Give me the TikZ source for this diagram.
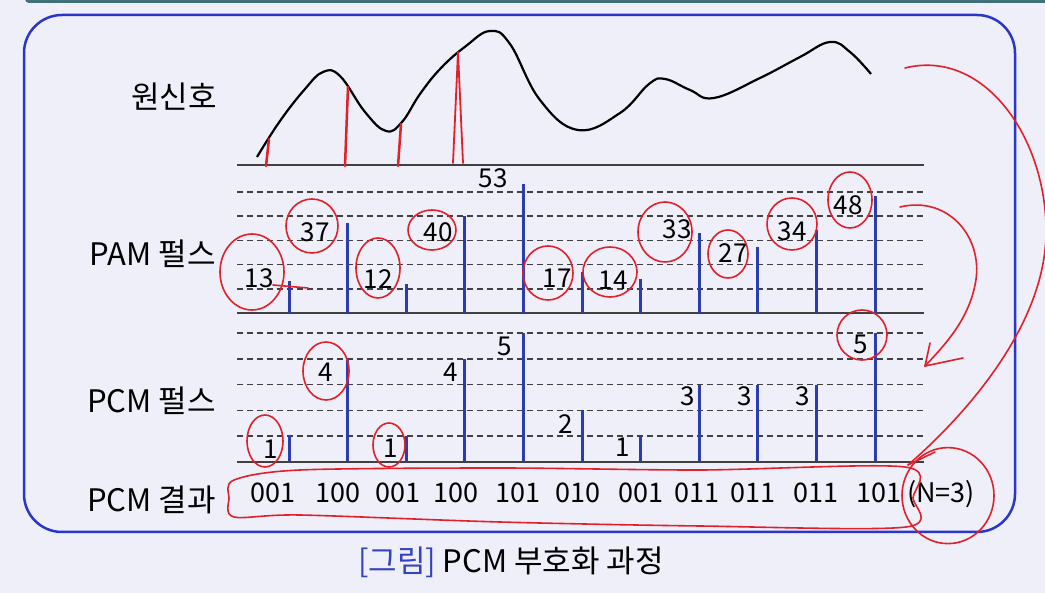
\documentclass[tikz,border=0pt]{standalone}
\usepackage{fontspec}
\newfontfamily\krfont{Noto Sans CJK KR}
\usetikzlibrary{arrows.meta}
\definecolor{slidebg}{HTML}{EEEFF8}
\definecolor{frameblue}{HTML}{2A36C8}
\definecolor{barblue}{HTML}{2B3BB0}
\definecolor{capblue}{HTML}{3444C0}
\definecolor{penred}{HTML}{E0202A}
\definecolor{topbar}{HTML}{41707A}
\definecolor{gridgrey}{HTML}{404040}
\tikzset{
  lbl/.style={font=\krfont\fontsize{27}{32}\selectfont, inner sep=0pt},
  side/.style={font=\krfont\fontsize{31}{36}\selectfont, inner sep=0pt, anchor=east},
  val/.style={font=\krfont\fontsize{26}{30}\selectfont, inner sep=0pt},
  pulse/.style={barblue, line width=3pt},
  axis/.style={gridgrey, line width=1.8pt},
  level/.style={gridgrey, line width=1.5pt, dash pattern=on 6pt off 4pt},
  pen/.style={penred, line width=1.6pt, line cap=round, line join=round},
}
\begin{document}
\begin{tikzpicture}[x=1pt,y=-1pt]
        \fill[slidebg] (0,0) rectangle (1045,593);
        \useasboundingbox (0,0) rectangle (1045,593);
        \fill[topbar, rounded corners=4pt] (25,-8) rectangle (1050,3);
        \draw[frameblue, line width=2.5pt, rounded corners=38pt] (24,15) rectangle (1015,532);

        \node[side] (orig) at (217,97) {원신호};
        \node[side] (pamlbl) at (216,254) {PAM 펄스};
        \node[side] (pcmlbl) at (216,401) {PCM 펄스};
        \node[side] (reslbl) at (216,500) {PCM 결과};

        \draw[axis] (237,165) -- (924,165);
        \draw[axis] (237,313) -- (924,313);
        \draw[axis] (237,462) -- (924,462);
        \foreach \k in {1,...,5} {
            \draw[level] (237,{313-24.2*\k}) -- (924,{313-24.2*\k});
            \draw[level] (237,{462-25.8*\k}) -- (924,{462-25.8*\k});
        }

        \draw[line width=2.2pt, line join=round] plot[smooth, tension=0.7] coordinates {(257,157) (280,121) (305,89) (323,72) (340,76) (365,112) (386,131) (402,122) (420,94) (441,68) (466,46) (490,31) (510,44) (540,100) (578,130) (620,113) (649,84) (665,79) (690,90) (714,98) (760,78) (800,57) (830,42) (850,52) (871,74)};

        \foreach \v [count=\i from 0] in {13,37,12,40,53,17,14,33,27,34,48}
            \draw[pulse] ({289+58.6*\i},313) -- ++(0,{-2.43*\v});
        \foreach \v [count=\i from 0] in {1,4,1,4,5,2,1,3,3,3,5}
            \draw[pulse] ({289+58.6*\i},462) -- ++(0,{-25.8*\v});

        \foreach \t/\x/\y [count=\i from 0] in {13/259/278, 37/315/232, 12/378/279, 40/438/232, 53/493/178, 17/557/278, 14/613/280, 33/677/229, 27/733/253, 34/792/231, 48/848/205}
            \node[val] (pam\i) at (\x,\y) {\t};
        \foreach \t/\x/\y [count=\i from 0] in {1/271/449, 4/326/372, 1/391/448, 4/451/372, 5/505/346, 2/566/424, 1/623/447, 3/688/396, 3/745/396, 3/803/396, 5/861/344}
            \node[val] (pcm\i) at (\x,\y) {\t};
        \foreach \c/\x [count=\i from 0] in {001/273, 100/338, 001/398, 100/456, 101/518, 010/578, 001/641, 011/697, 011/753, 011/816, 101/879}
            \node[lbl, anchor=base] (code\i) at (\x,503) {\c};
        \node[lbl, anchor=base] (nbits) at (941,503) {(N=3)};

        \node[lbl, font=\krfont\fontsize{31}{36}\selectfont] (caption) at (511,562) {\textcolor{capblue}{[그림]} PCM 부호화 과정};

        \foreach \x/\y in {268/139, 347/87, 400/124}
            \draw[pen, line width=2.5pt] (\x-2,166) -- (\x+1,\y);
        \draw[pen, line width=1.8pt] (453,163) -- (458,52) -- (463,163);

        \foreach \n/\dx/\dy/\rx/\ry in {pam0/-7/-6/32/38, pam1/-3/-6/26/27, pam2/0/-11/22/30, pam3/-6/-2/24/20, pam5/-9/-5/25/27, pam6/-3/-8/27/25, pam7/-12/3/27/30, pam8/-5/1/20/24, pam9/0/-7/25/26, pam10/2/-5/22/28, pcm0/-6/-8/18/26, pcm1/0/-1/23/29, pcm2/-2/-3/16/22, pcm10/1/-9/25/25, nbits/7/1/46/48}
            \draw[pen] ([shift={(\dx,\dy)}]\n.center) ellipse[x radius=\rx pt, y radius=\ry pt];
        \draw[pen] (273,285) -- (308,288);

        \draw[pen] plot[smooth cycle, tension=0.5] coordinates {(234,480) (300,470) (500,468) (700,470) (905,467) (913,498) (906,527) (700,526) (500,522) (300,515) (234,517) (229,498)};

        \coordinate (startA) at (905,68);
        \coordinate (tipA) at (908,465);
        \draw[pen] (startA) .. controls (985,48) and (1048,140) .. (1046,235) .. controls (1044,330) and (960,420) .. (tipA);
        \draw[pen] (tipA) -- (935,452);
        \coordinate (startB) at (900,207);
        \coordinate (tipB) at (925,366);
        \draw[pen] (startB) .. controls (950,195) and (985,240) .. (975,285) .. controls (968,320) and (945,345) .. (tipB);
        \draw[pen] (tipB) -- (963,358);
        \draw[pen] (tipB) -- (930,343);
\end{tikzpicture}
\end{document}
